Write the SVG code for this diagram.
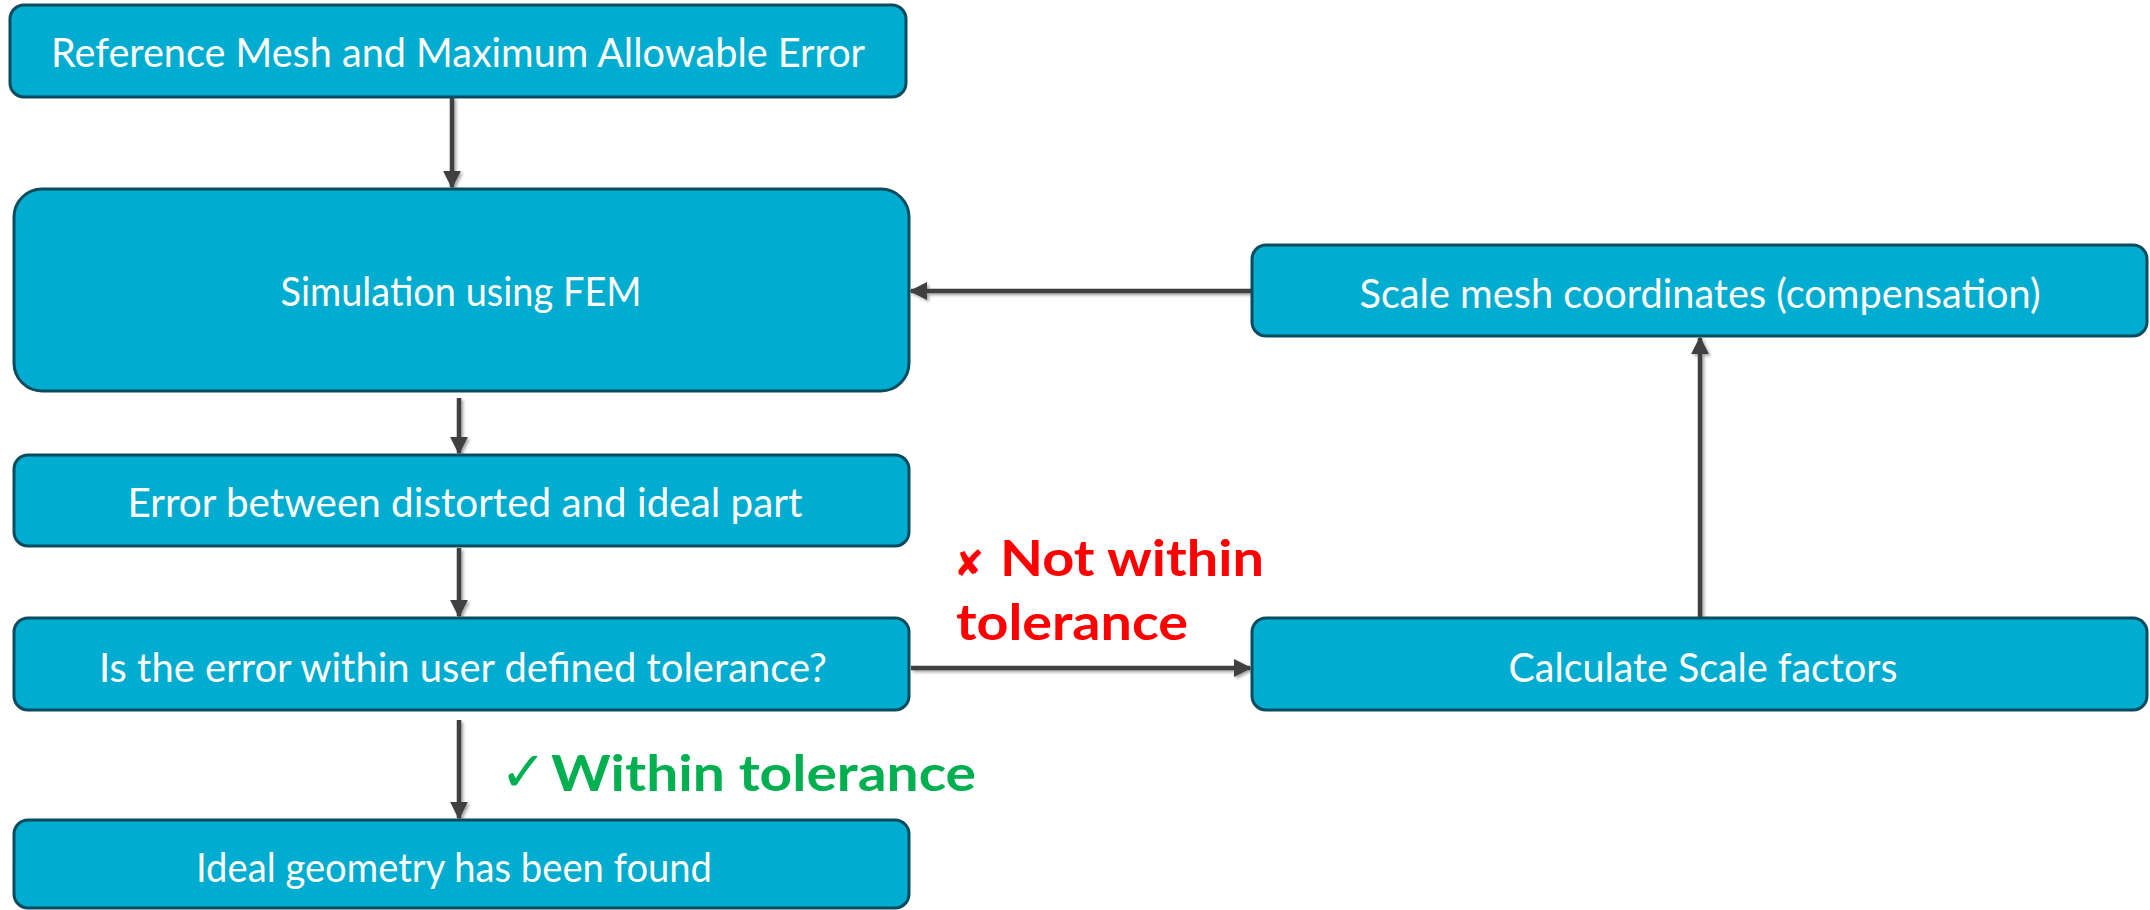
<svg xmlns="http://www.w3.org/2000/svg" width="2150" height="910" viewBox="0 0 2150 910">
<defs>
<style>
.box{fill:#00ACD0;stroke:#0A4C5E;stroke-width:3}
.lbl{font-family:Lato,"Open Sans","Liberation Sans",sans-serif;font-size:41px;fill:#FFFFFF;text-anchor:middle}
.con{stroke:#404040;stroke-width:4.5;fill:none;marker-end:url(#ah)}
.red{font-family:Lato,"Liberation Sans",sans-serif;font-weight:bold;font-size:50px;fill:#FF0000}
.grn{font-family:Lato,"Liberation Sans",sans-serif;font-weight:bold;font-size:50px;fill:#00B050}
</style>
<marker id="ah" viewBox="0 0 10 10" refX="9" refY="5" markerWidth="4" markerHeight="4" orient="auto" markerUnits="strokeWidth">
<path d="M0,0 L10,5 L0,10 Z" fill="#404040"/>
</marker>
<filter id="sh" x="-20%" y="-20%" width="140%" height="140%">
<feDropShadow dx="2" dy="2" stdDeviation="1.5" flood-color="#000" flood-opacity="0.35"/>
</filter>
</defs>
<g id="connectors" filter="url(#sh)">
<line class="con" x1="452" y1="97" x2="452" y2="187"/>
<line class="con" x1="1252" y1="291" x2="911" y2="291"/>
<line class="con" x1="459" y1="398" x2="459" y2="453"/>
<line class="con" x1="459" y1="548" x2="459" y2="616"/>
<line class="con" x1="459" y1="720" x2="459" y2="818"/>
<line class="con" x1="911" y1="668" x2="1250" y2="668"/>
<line class="con" x1="1700" y1="618" x2="1700" y2="338"/>
</g>
<g id="n1">
<rect class="box" x="10" y="5" width="896" height="92" rx="14"/>
<text class="lbl" x="458" y="67" textLength="814" lengthAdjust="spacingAndGlyphs">Reference Mesh and Maximum Allowable Error</text>
</g>
<g id="n2">
<rect class="box" x="14" y="189" width="895" height="202" rx="28"/>
<text class="lbl" x="461" y="306" textLength="361" lengthAdjust="spacingAndGlyphs">Simulation using FEM</text>
</g>
<g id="n3">
<rect class="box" x="1252" y="245" width="895" height="91" rx="14"/>
<text class="lbl" x="1700" y="308" textLength="681" lengthAdjust="spacingAndGlyphs">Scale mesh coordinates (compensation)</text>
</g>
<g id="n4">
<rect class="box" x="14" y="455" width="895" height="91" rx="14"/>
<text class="lbl" x="465" y="517" textLength="675" lengthAdjust="spacingAndGlyphs">Error between distorted and ideal part</text>
</g>
<g id="n5">
<rect class="box" x="14" y="618" width="895" height="92" rx="14"/>
<text class="lbl" x="463" y="682" textLength="728" lengthAdjust="spacingAndGlyphs">Is the error within user defined tolerance?</text>
</g>
<g id="n6">
<rect class="box" x="1252" y="618" width="895" height="92" rx="14"/>
<text class="lbl" x="1703" y="682" textLength="389" lengthAdjust="spacingAndGlyphs">Calculate Scale factors</text>
</g>
<g id="n7">
<rect class="box" x="14" y="820" width="895" height="88" rx="14"/>
<text class="lbl" x="454" y="882" textLength="516" lengthAdjust="spacingAndGlyphs">Ideal geometry has been found</text>
</g>
<g id="labels">
<text class="red" x="954" y="576"><tspan font-family="DejaVu Sans,sans-serif" font-size="36px">✘</tspan><tspan x="1000" textLength="264" lengthAdjust="spacingAndGlyphs">Not within</tspan></text>
<text class="red" x="956" y="640" textLength="232" lengthAdjust="spacingAndGlyphs">tolerance</text>
<text class="grn" x="500" y="791"><tspan font-family="DejaVu Sans,sans-serif" font-size="56px" font-weight="normal">✓</tspan><tspan x="551" textLength="425" lengthAdjust="spacingAndGlyphs">Within tolerance</tspan></text>
</g>
</svg>
